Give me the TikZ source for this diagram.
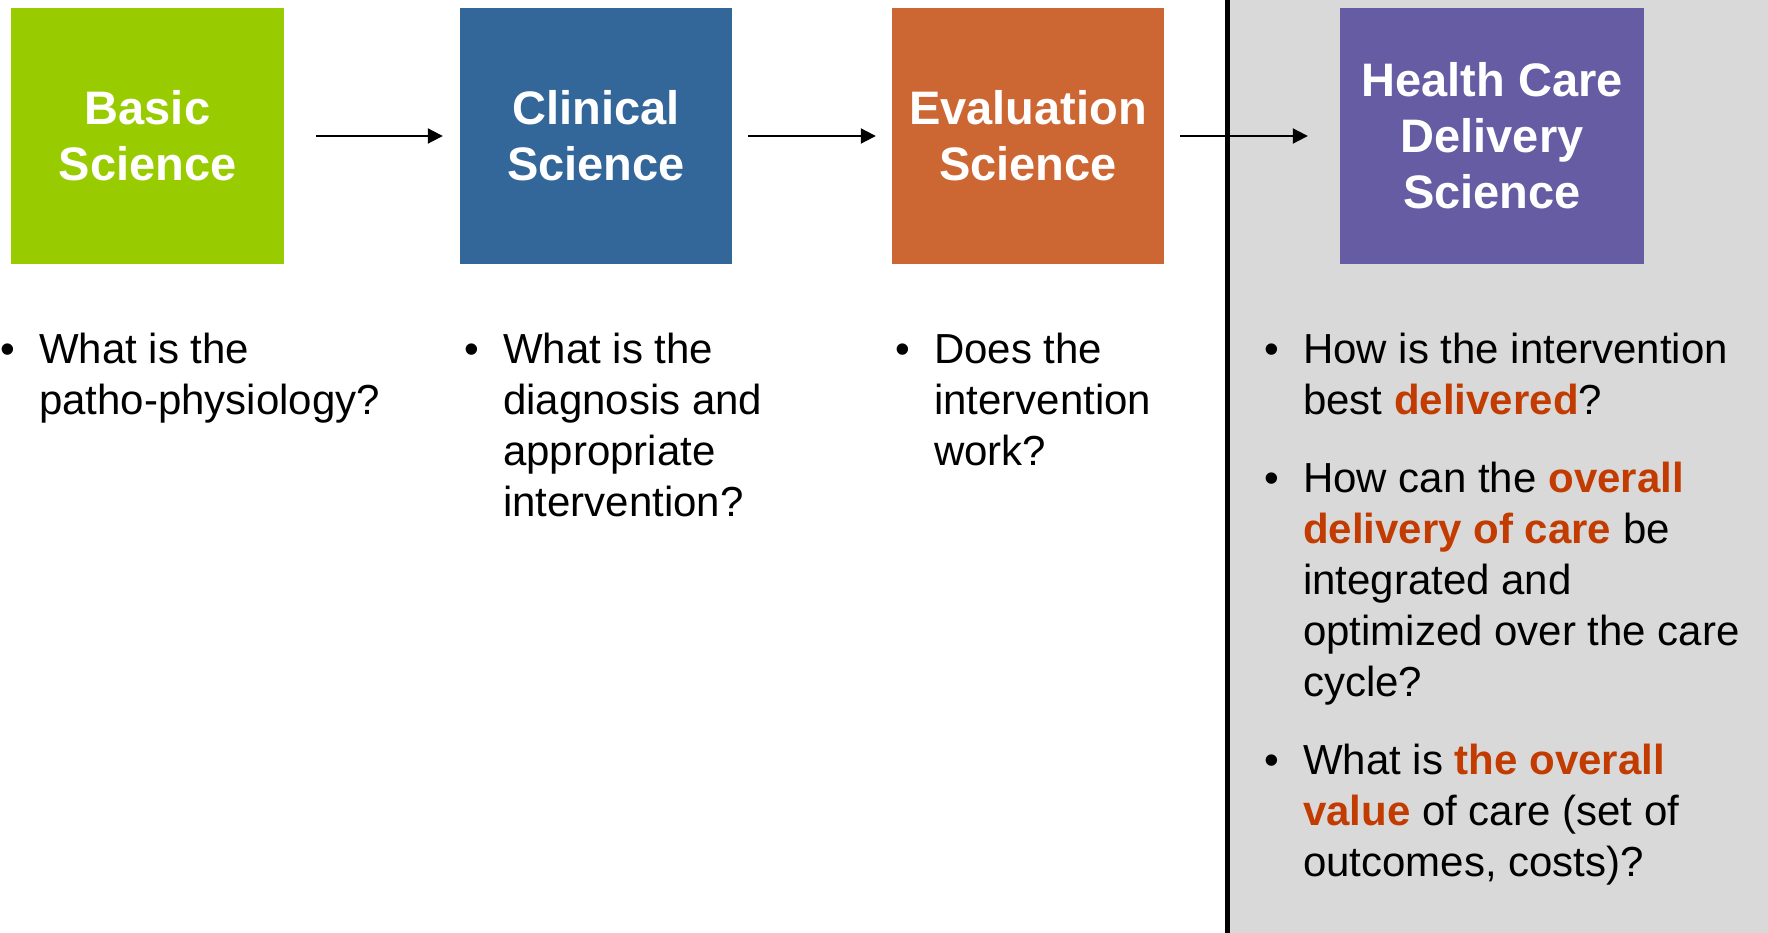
\documentclass[tikz,border=0pt]{standalone}
\usepackage{fontspec}
\setmainfont{Liberation Sans}
\usepackage{xcolor}
\usetikzlibrary{arrows.meta}

\definecolor{basicgreen}{HTML}{99CC00}
\definecolor{clinicalblue}{HTML}{336699}
\definecolor{evalorange}{HTML}{CC6633}
\definecolor{deliverypurple}{HTML}{665CA3}
\definecolor{panelgray}{HTML}{D9D9D9}
\definecolor{accent}{HTML}{C23B00}

% bullet list block, bullet with hanging indent, highlighted key terms
\newcommand{\qlist}[2]{\parbox[t]{#1}{\raggedright\setlength{\parskip}{27pt}#2}}
\newcommand{\qitem}{\par\leavevmode\hangindent=39pt\hangafter=1\makebox[39pt][l]{\textbullet}}
\newcommand{\keyterm}[1]{\textcolor{accent}{\textbf{#1}}}

\begin{document}
\begin{tikzpicture}[
    x=1pt, y=-1pt,
    box/.style={rectangle, inner sep=0pt, minimum height=255pt, text=white, align=center, font=\fontsize{47}{56}\selectfont\bfseries},
    question/.style={anchor=base west, inner sep=0pt, font=\fontsize{42}{51}\selectfont},
    arrow/.style={-{Triangle[length=15pt, width=15pt]}, line width=2pt}
]

% Page and right-hand panel
\useasboundingbox (0,0) rectangle (1768,933);
\fill[panelgray] (1227,0) rectangle (1768,933);
\draw[line width=4.5pt] (1227.5,0) -- (1227.5,933);

% Main boxes
\node[box, fill=basicgreen, minimum width=273pt] (basic) at (147.5,136) {Basic\\Science};
\node[box, fill=clinicalblue, minimum width=272pt] (clinical) at (596,136) {Clinical\\Science};
\node[box, fill=evalorange, minimum width=272pt] (evaluation) at (1028,136) {Evaluation\\Science};
\node[box, fill=deliverypurple, minimum width=304pt] (delivery) at (1492,136) {Health Care\\Delivery\\Science};

% Arrows between the boxes
\draw[arrow, shorten <=32pt, shorten >=17pt] (basic) -- (clinical);
\draw[arrow, shorten <=16pt, shorten >=16pt] (clinical) -- (evaluation);
\draw[arrow, shorten <=16pt, shorten >=32pt] (evaluation) -- (delivery);

% Questions under each box
\node[question] (qbasic) at (0,363) {\qlist{400pt}{\qitem What is the\newline patho-physiology?}};
\node[question] (qclinical) at (464,363) {\qlist{400pt}{\qitem What is the\newline diagnosis and\newline appropriate\newline intervention?}};
\node[question] (qevaluation) at (895,363) {\qlist{320pt}{\qitem Does the\newline intervention\newline work?}};
\node[question] (qdelivery) at (1264,363) {\qlist{500pt}{%
  \qitem How is the intervention\newline best \keyterm{delivered}?
  \qitem How can the \keyterm{overall}\newline \keyterm{delivery of care} be\newline integrated and\newline optimized over the care\newline cycle?
  \qitem What is \keyterm{the overall}\newline \keyterm{value} of care (set of\newline outcomes, costs)?}};

\end{tikzpicture}
\end{document}
